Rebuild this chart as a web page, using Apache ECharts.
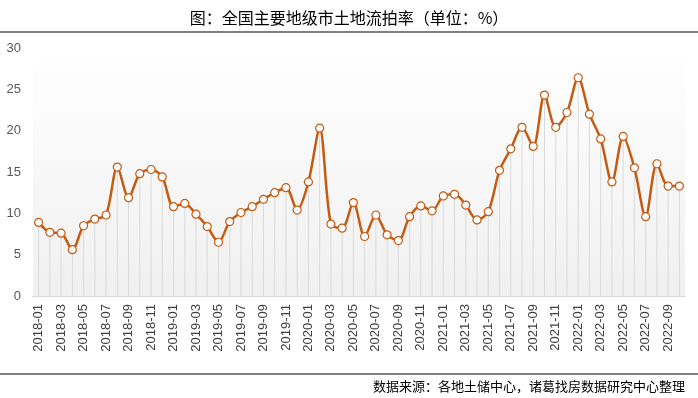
<!DOCTYPE html>
<html>
<head>
<meta charset="utf-8">
<script src="https://cdn.jsdelivr.net/npm/echarts@6/dist/echarts.min.js"></script>
<style>
  html, body { margin: 0; padding: 0; background: #fff; }
  #main { width: 698px; height: 398px; }
</style>
</head>
<body>
<div id="main"></div>
<script>
// months 2018-01 .. 2022-10
const years = [2018, 2019, 2020, 2021, 2022];
const months = [];
years.forEach(y => {
  for (let m = 1; m <= 12; m++) {
    if (y === 2022 && m > 10) break;
    months.push(y + '-' + (m < 10 ? '0' + m : m));
  }
});

// 流拍率 (%)
const rate = [
  8.9, 7.7, 7.6, 5.6, 8.5, 9.3, 9.8, 15.6, 11.9, 14.8, 15.3, 14.4,
  10.8, 11.2, 9.9, 8.4, 6.5, 9.0, 10.1, 10.8, 11.7, 12.5, 13.1, 10.4,
  13.8, 20.3, 8.7, 8.2, 11.3, 7.2, 9.8, 7.4, 6.7, 9.6, 10.9, 10.3,
  12.1, 12.3, 11.0, 9.2, 10.2, 15.2, 17.8, 20.4, 18.1, 24.3, 20.4, 22.2,
  26.4, 22.0, 19.0, 13.8, 19.3, 15.5, 9.6, 16.0, 13.3, 13.3
];

const titleText = '图：全国主要地级市土地流拍率（单位：%）';
const sourceText = '数据来源：各地土储中心，诸葛找房数据研究中心整理';

const chart = echarts.init(document.getElementById('main'));

const option = {
  backgroundColor: '#fff',
  animation: false,
  title: {
    text: titleText,
    left: 'center',
    top: 5,
    textStyle: { fontSize: 16, fontWeight: 'normal', color: '#000', fontFamily: 'Noto Sans CJK SC' }
  },
  graphic: [
    { type: 'line', shape: { x1: 0, y1: 32, x2: 698, y2: 32 }, style: { stroke: '#808080', lineWidth: 2 } },
    { type: 'line', shape: { x1: 0, y1: 374, x2: 698, y2: 374 }, style: { stroke: '#808080', lineWidth: 2 } },
    {
      type: 'text', right: 13, top: 380,
      style: { text: sourceText, fontSize: 13, fill: '#000', fontFamily: 'Noto Sans CJK SC' }
    }
  ],
  grid: {
    left: 33, right: 13, top: 48, bottom: 102,
    show: true,
    borderWidth: 0,
    backgroundColor: new echarts.graphic.LinearGradient(0, 0, 0, 1, [
      { offset: 0, color: '#ffffff' },
      { offset: 1, color: '#f0f0f0' }
    ])
  },
  xAxis: {
    type: 'category',
    data: months,
    boundaryGap: true,
    axisLine: { lineStyle: { color: '#d9d9d9' } },
    axisTick: { show: false },
    axisLabel: {
      interval: 1,
      rotate: 90,
      color: '#404040',
      fontSize: 13,
      fontFamily: 'Liberation Sans',
      margin: 8
    }
  },
  yAxis: {
    type: 'value',
    min: 0, max: 30, interval: 5,
    splitLine: { show: false },
    axisLine: { show: false },
    axisTick: { show: false },
    axisLabel: { color: '#595959', fontSize: 13, fontFamily: 'Liberation Sans', margin: 12 }
  },
  series: [
    {
      type: 'bar',
      data: rate,
      barWidth: 1,
      itemStyle: { color: '#d9d9d9' },
      silent: true,
      z: 1
    },
    {
      type: 'line',
      data: rate,
      smooth: 0.3,
      showAllSymbol: true,
      symbol: 'circle',
      symbolSize: 8,
      lineStyle: { color: '#c55a11', width: 2.5 },
      itemStyle: { color: '#fff', borderColor: '#c55a11', borderWidth: 1.2 },
      z: 3
    }
  ]
};

chart.setOption(option);
</script>
</body>
</html>
